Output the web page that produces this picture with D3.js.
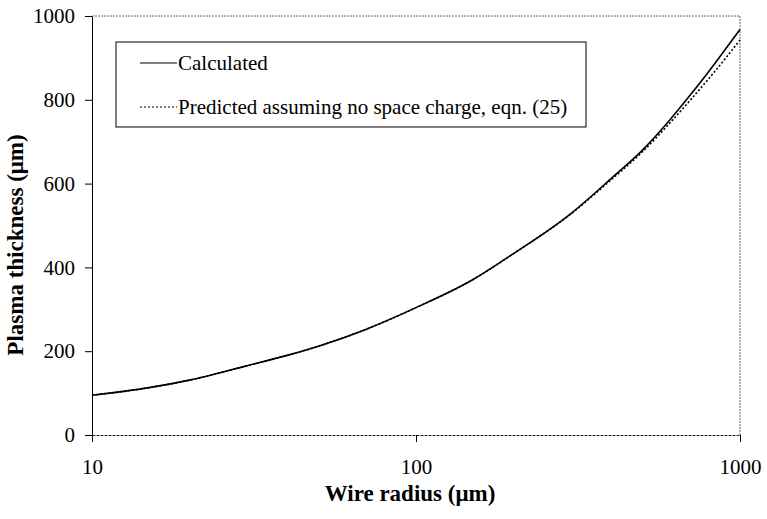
<!DOCTYPE html>
<html>
<head>
<meta charset="utf-8">
<script src="https://cdn.jsdelivr.net/npm/d3@7"></script>
<style>
  body { margin: 0; background: #fff; }
  svg { font-family: "Liberation Serif", "DejaVu Serif", serif; }
</style>
</head>
<body>
<div id="root"></div>
<script>
// wire radius (um)
const radius = [10, 15, 20, 30, 40, 50, 70, 100, 150, 200, 300, 400, 500, 600, 700, 800, 900, 1000];
// plasma thickness (um)
const calculated = [95, 113, 131, 165, 190, 212, 252, 304, 371, 433, 528, 612, 680, 747, 810, 867, 920, 968];
const predicted  = [95, 113, 131, 165, 190, 212, 252, 304, 371, 433, 527, 609, 676, 740, 798, 850, 898, 943];

const xTicks = [10, 100, 1000];
const yTicks = [0, 200, 400, 600, 800, 1000];

const seriesNames = ["Calculated", "Predicted assuming no space charge, eqn. (25)"];

const width = 767, height = 519;
const margin = { top: 16, right: 27, bottom: 84, left: 92 };

const svg = d3.select("#root").append("svg")
  .attr("width", width)
  .attr("height", height);

const x = d3.scaleLog().domain([10, 1000]).range([margin.left, width - margin.right]);
const y = d3.scaleLinear().domain([0, 1000]).range([height - margin.bottom, margin.top]);

// frame: top and right are faint dotted lines
svg.append("line")
  .attr("x1", x(10)).attr("x2", x(1000))
  .attr("y1", y(1000)).attr("y2", y(1000))
  .attr("stroke", "#666").attr("stroke-dasharray", "2,1");
svg.append("line")
  .attr("x1", x(1000)).attr("x2", x(1000))
  .attr("y1", y(1000)).attr("y2", y(0))
  .attr("stroke", "#666").attr("stroke-dasharray", "2,1");

const xAxis = d3.axisBottom(x).tickValues(xTicks).tickFormat(d3.format("d")).tickSizeInner(7).tickSizeOuter(0).tickPadding(17);
const yAxis = d3.axisLeft(y).tickValues(yTicks).tickFormat(d3.format("d")).tickSizeInner(7).tickSizeOuter(0).tickPadding(10);

const gx = svg.append("g")
  .attr("transform", `translate(0, ${y(0)})`)
  .call(xAxis);
gx.select(".domain").attr("stroke", "#222").attr("stroke-dasharray", "3,1");

const gy = svg.append("g")
  .attr("transform", `translate(${x(10)}, 0)`)
  .call(yAxis);

svg.selectAll(".tick text")
  .attr("font-family", "Liberation Serif")
  .attr("font-size", 21)
  .attr("fill", "#000");
svg.selectAll(".tick line").attr("stroke", "#000");

// axis titles
svg.append("text")
  .attr("x", 410)
  .attr("y", 501)
  .attr("text-anchor", "middle")
  .attr("font-size", 23)
  .attr("font-weight", "bold")
  .text("Wire radius (μm)");

svg.append("text")
  .attr("transform", "translate(23, 245) rotate(-90)")
  .attr("text-anchor", "middle")
  .attr("font-size", 23)
  .attr("font-weight", "bold")
  .text("Plasma thickness (μm)");

// lines
const line = d3.line()
  .x((d, i) => x(radius[i]))
  .y(d => y(d))
  .curve(d3.curveMonotoneX);

svg.append("path")
  .datum(predicted)
  .attr("fill", "none")
  .attr("stroke", "#000")
  .attr("stroke-width", 1.6)
  .attr("stroke-dasharray", "2,2")
  .attr("d", line);

svg.append("path")
  .datum(calculated)
  .attr("fill", "none")
  .attr("stroke", "#000")
  .attr("stroke-width", 1.6)
  .attr("d", line);

// legend
const legend = svg.append("g");
legend.append("rect")
  .attr("x", 116).attr("y", 42)
  .attr("width", 470).attr("height", 85)
  .attr("fill", "#fff")
  .attr("stroke", "#000");

const dashes = [null, "2,2"];
seriesNames.forEach((name, i) => {
  const ly = 63 + i * 44;
  legend.append("line")
    .attr("x1", 140).attr("x2", 177)
    .attr("y1", ly).attr("y2", ly)
    .attr("stroke", "#000")
    .attr("stroke-width", 1.2)
    .attr("stroke-dasharray", dashes[i]);
  legend.append("text")
    .attr("x", 178)
    .attr("y", ly + 7)
    .attr("font-size", 21)
    .text(name);
});
</script>
</body>
</html>
